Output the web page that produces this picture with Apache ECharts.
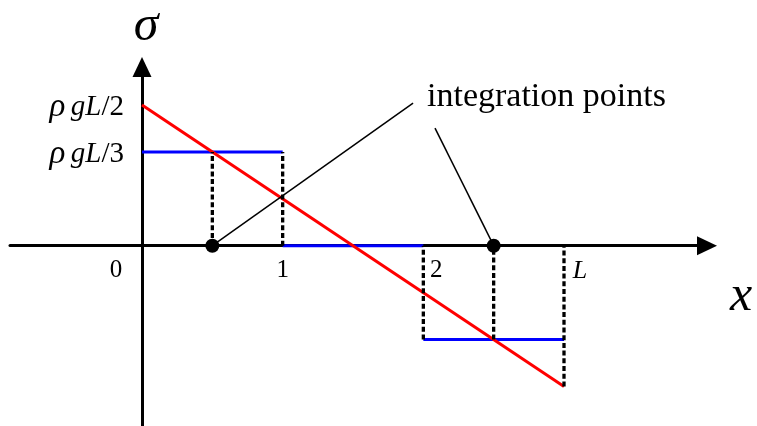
<!DOCTYPE html>
<html><head><meta charset="utf-8">
<script src="https://cdn.jsdelivr.net/npm/echarts@6/dist/echarts.min.js"></script>
<style>html,body{margin:0;padding:0;background:#fff}#c{width:757px;height:426px}</style>
</head><body><div id="c"></div>
<script>
// ---- data ----
const xMin = -0.9384, xMax = 4.0166;
const yMin = -0.6407, yMax = 0.6350;
const xTickValues = [0, 1, 2, 3];
const xTickLabels = ['0', '1', '2', 'L'];
const yTickValues = [1/3, 1/2];
const yTickLabels = ['ρ gL/3', 'ρ gL/2'];
const xAxisName = 'x';
const yAxisName = 'σ';
const exactX = [0, 3];
const exactY = [0.5, -0.5];
const stepStart = [0, 1, 2];
const stepEnd = [1, 2, 3];
const stepValue = [1/3, 0, -1/3];
const dashedX = [0.5, 1, 2, 2.5, 3];
const dashedLow = [0, 0, -1/3, -1/3, -0.5];
const dashedHigh = [1/3, 1/3, 0, 0, 0];
const integrationX = [0.5, 2.5];
const integrationY = [0, 0];
const calloutText = 'integration points';
const calloutEnds = [[1.927, 0.507], [2.083, 0.418]];
const calloutTextAt = [2.026, 0.528];

// ---- chart ----
const SERIF = "'Liberation Serif','Times New Roman',serif";
const chart = echarts.init(document.getElementById('c'), null, {renderer: 'canvas'});
const series = [];
stepStart.forEach((s, i) => {
  series.push({type: 'line', data: [[s, stepValue[i]], [stepEnd[i], stepValue[i]]],
    symbol: 'none', lineStyle: {color: '#0000ff', width: 3}, z: 3, silent: true});
});
series.push({type: 'line', data: exactX.map((x, i) => [x, exactY[i]]), symbol: 'none',
  lineStyle: {color: '#ff0000', width: 3}, z: 4, silent: true});
dashedX.forEach((x, i) => {
  series.push({type: 'line', data: [[x, dashedLow[i]], [x, dashedHigh[i]]], symbol: 'none',
    lineStyle: {color: '#000', width: 3.3, type: [5, 2.7]}, z: 5, silent: true});
});
integrationX.forEach((x, i) => {
  series.push({type: 'line', data: [[x, integrationY[i]], calloutEnds[i]], symbol: 'none',
    lineStyle: {color: '#000', width: 1.5}, z: 6, silent: true});
});
series.push({type: 'scatter', data: integrationX.map((x, i) => [x, integrationY[i]]),
  symbol: 'circle', symbolSize: 14, itemStyle: {color: '#000', opacity: 1}, z: 7, silent: true});

// text annotations (labels anchored to data coordinates)
const txt = (extra) => Object.assign({show: true, position: 'inside', color: '#000',
  fontFamily: SERIF, textBorderWidth: 0, align: 'center', verticalAlign: 'middle'}, extra);
const xLabelOffsets = [[-26, 25], [0, 25], [13, 25], [16, 25]];
const annotations = [];
xTickValues.forEach((v, i) => {
  annotations.push({value: [v, 0], label: txt({formatter: xTickLabels[i], fontSize: i === 3 ? 26 : 25,
    fontStyle: i === 3 ? 'italic' : 'normal', offset: xLabelOffsets[i]})});
});
yTickValues.forEach((v, i) => {
  const parts = yTickLabels[i].split(' ');
  const rest = parts[1].split('/');
  annotations.push({value: [0, v], label: txt({align: 'right', offset: [-18, 2],
    formatter: '{rho|' + parts[0] + '}{sp| }{it|' + rest[0] + '}{up|/' + rest[1] + '}',
    rich: {rho: {fontFamily: SERIF, fontSize: 33, fontStyle: 'italic', color: '#000'},
           sp: {fontFamily: SERIF, fontSize: 22, color: '#000'},
           it: {fontFamily: SERIF, fontSize: 29, fontStyle: 'italic', color: '#000'},
           up: {fontFamily: SERIF, fontSize: 29, color: '#000'}}})});
});
annotations.push({value: [0, yMax], label: txt({formatter: yAxisName, fontSize: 50, fontStyle: 'italic', offset: [4, -40]})});
annotations.push({value: [xMax, 0], label: txt({formatter: xAxisName, fontSize: 50, fontStyle: 'italic', align: 'left', offset: [23, 51]})});
annotations.push({value: calloutTextAt, label: txt({formatter: calloutText, fontSize: 34, align: 'left'})});
series.push({type: 'scatter', data: annotations, symbolSize: 0, z: 8, silent: true,
  itemStyle: {color: 'rgba(0,0,0,0)', opacity: 1}});

const option = {
  animation: false,
  backgroundColor: '#fff',
  grid: {left: 10, right: 50, top: 67, bottom: 0, containLabel: false},
  xAxis: {
    type: 'value', min: xMin, max: xMax,
    splitLine: {show: false}, axisTick: {show: false}, axisLabel: {show: false},
    axisLine: {onZero: true, lineStyle: {color: '#000', width: 3},
      symbol: ['none', 'triangle'], symbolSize: [19, 20]}
  },
  yAxis: {
    type: 'value', min: yMin, max: yMax,
    splitLine: {show: false}, axisTick: {show: false}, axisLabel: {show: false},
    axisLine: {onZero: true, lineStyle: {color: '#000', width: 3},
      symbol: ['none', 'triangle'], symbolSize: [19, 20]}
  },
  series: series
};
chart.setOption(option);
</script></body></html>
